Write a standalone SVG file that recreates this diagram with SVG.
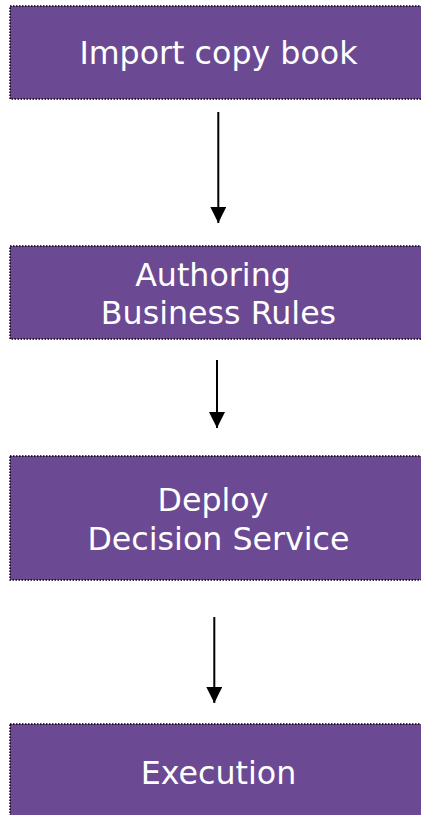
<svg xmlns="http://www.w3.org/2000/svg" width="421" height="815" viewBox="0 0 421 815">
  <style>
    .box { fill: #6b4993; stroke: #000; stroke-width: 1.5; stroke-dasharray: 1.5 1.5; }
    .label { fill: #fff; font-family: "DejaVu Sans", Verdana, sans-serif; font-size: 31.7px; text-anchor: middle; }
    .link { stroke: #000; stroke-width: 2; fill: none; marker-end: url(#head); }
  </style>
  <defs>
    <marker id="head" viewBox="0 0 16 16" refX="16" refY="8" markerWidth="16" markerHeight="16" markerUnits="userSpaceOnUse" orient="auto">
      <path d="M0,0 L16,8 L0,16 Z" fill="#000"/>
    </marker>
  </defs>
  <rect width="421" height="815" fill="#fff"/>

  <g id="import">
    <rect class="box" x="10" y="6" width="420" height="93"/>
    <text class="label" x="218.5" y="64">Import copy book</text>
  </g>

  <g id="authoring">
    <rect class="box" x="10" y="246" width="420" height="93"/>
    <text class="label" x="213" y="286">Authoring</text>
    <text class="label" x="218.5" y="324">Business Rules</text>
  </g>

  <g id="deploy">
    <rect class="box" x="10" y="456" width="420" height="124"/>
    <text class="label" x="213" y="511">Deploy</text>
    <text class="label" x="218.5" y="550">Decision Service</text>
  </g>

  <g id="execution">
    <rect class="box" x="10" y="724" width="420" height="100"/>
    <text class="label" x="218.5" y="784">Execution</text>
  </g>

  <g id="connectors">
    <line class="link" x1="218.3" y1="112" x2="218.3" y2="223"/>
    <line class="link" x1="217" y1="360" x2="217" y2="428"/>
    <line class="link" x1="214.3" y1="617" x2="214.3" y2="703"/>
  </g>
</svg>
